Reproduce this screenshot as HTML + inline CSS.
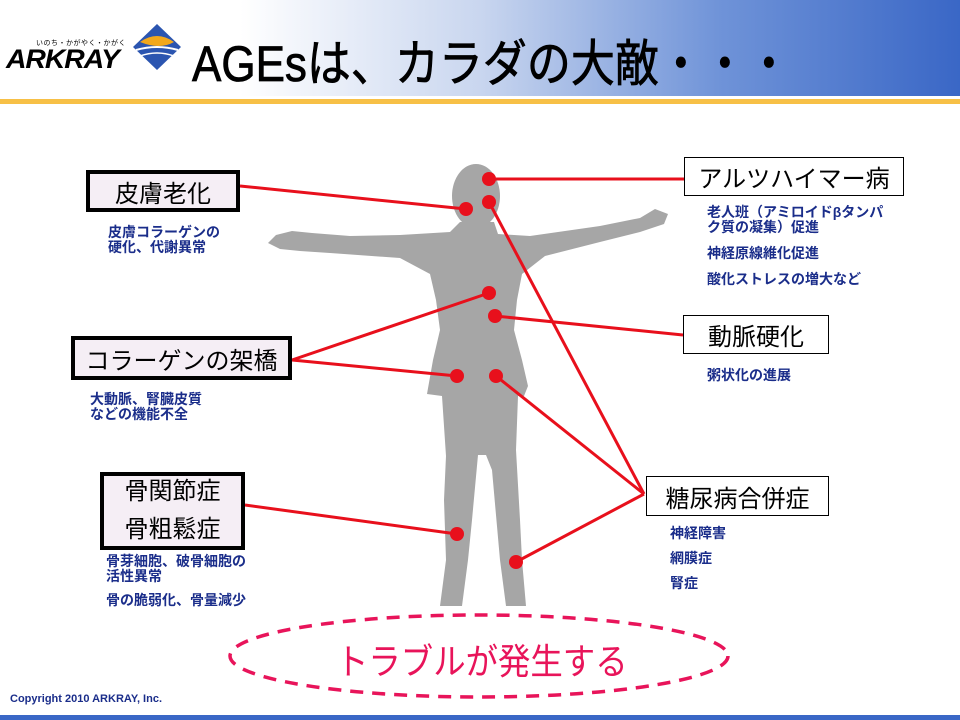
<!DOCTYPE html>
<html><head><meta charset="utf-8"><style>
body{margin:0;width:960px;height:720px;overflow:hidden;background:#fff;position:relative;font-family:"Liberation Sans","Noto Sans CJK JP",sans-serif}
.a{position:absolute}
.hdr{left:0;top:0;width:960px;height:96px;background:linear-gradient(90deg,#fff 0%,#fff 25%,#c9d6ef 50%,#6f93d8 75%,#3a67c6 100%)}
.box{position:absolute;box-sizing:border-box;display:flex;align-items:center;justify-content:center;color:#000;font-size:24px;white-space:nowrap}
.thick{border:4px solid #000;background:#f5eef5}
.thin{border:1px solid #000;background:#fff}
.d{position:absolute;color:#1a2d8a;font-weight:bold;font-size:14px;line-height:15px;white-space:nowrap}
</style></head><body>
<div class="a hdr"></div>
<div class="a" style="left:0;top:99px;width:960px;height:5px;background:#f7c046"></div>
<div class="a" style="left:0;top:715px;width:960px;height:5px;background:#3a67c6"></div>
<div class="a" style="left:36px;top:38px;font-size:7px;letter-spacing:0.5px">いのち・かがやく・かがく</div>
<div class="a" style="left:6px;top:44px;font-size:27px;font-weight:bold;font-style:italic;letter-spacing:-1px;transform:scaleX(1.05);transform-origin:left">ARKRAY</div>
<svg class="a" style="left:0;top:0" width="960" height="720">
<polygon points="157,24 181,47 157,70 133,47" fill="#2b55b0"/>
<path d="M140,42 Q157,30 174,42 Q160,50 140,42Z" fill="#f2a81c"/>
<path d="M136,50 Q157,44 178,50" stroke="#fff" stroke-width="2" fill="none"/>
<path d="M140,56 Q157,50 174,56" stroke="#fff" stroke-width="1.5" fill="none"/>
</svg>
<div class="a" style="left:192px;top:24px;font-size:50px;transform:scaleX(0.88);transform-origin:left;white-space:nowrap;-webkit-text-stroke:0.8px #000">AGEsは、カラダの大敵・・・</div>

<svg class="a" style="left:0;top:0" width="960" height="720">
<g fill="#a6a6a6">
<ellipse cx="476" cy="196" rx="24" ry="32"/>
<polygon points="460,222 494,222 498,234 530,236 600,226 640,218 655,209 668,214 664,224 640,232 600,242 545,256 522,274 517,300 514,330 522,360 528,386 524,396 518,396 516,450 520,520 522,560 526,606 506,606 500,560 492,470 486,455 478,455 472,520 468,560 462,606 440,606 446,560 444,500 446,456 442,396 427,394 433,360 440,330 436,300 430,274 400,258 330,253 300,251 280,249 268,243 276,235 292,231 312,233 350,236 400,235 450,232"/>
</g>
<g stroke="#e8101c" stroke-width="3" fill="none">
<line x1="240" y1="186" x2="466" y2="209"/>
<line x1="489" y1="179" x2="684" y2="179"/>
<line x1="489" y1="202" x2="644" y2="494"/>
<line x1="495" y1="316" x2="683" y2="335"/>
<line x1="292" y1="360" x2="489" y2="293"/>
<line x1="292" y1="360" x2="457" y2="376"/>
<line x1="496" y1="376" x2="644" y2="494"/>
<line x1="245" y1="505" x2="457" y2="534"/>
<line x1="516" y1="562" x2="644" y2="494"/>
</g>
<g fill="#e8101c">
<circle cx="489" cy="179" r="7"/><circle cx="466" cy="209" r="7"/><circle cx="489" cy="202" r="7"/>
<circle cx="489" cy="293" r="7"/><circle cx="495" cy="316" r="7"/><circle cx="457" cy="376" r="7"/>
<circle cx="496" cy="376" r="7"/><circle cx="457" cy="534" r="7"/><circle cx="516" cy="562" r="7"/>
</g>
<ellipse cx="479" cy="656" rx="249" ry="41" fill="none" stroke="#e8145a" stroke-width="3.5" stroke-dasharray="13,9"/>
</svg>

<div class="box thick" style="left:86px;top:170px;width:154px;height:42px">皮膚老化</div>
<div class="d" style="left:108px;top:225px">皮膚コラーゲンの<br>硬化、代謝異常</div>
<div class="box thick" style="left:71px;top:336px;width:221px;height:44px">コラーゲンの架橋</div>
<div class="d" style="left:90px;top:392px">大動脈、腎臓皮質<br>などの機能不全</div>
<div class="box thick" style="left:100px;top:472px;width:145px;height:78px;flex-direction:column;line-height:38px">骨関節症<br>骨粗鬆症</div>
<div class="d" style="left:106px;top:554px">骨芽細胞、破骨細胞の<br>活性異常</div>
<div class="d" style="left:106px;top:593px">骨の脆弱化、骨量減少</div>

<div class="box thin" style="left:684px;top:157px;width:220px;height:39px">アルツハイマー病</div>
<div class="d" style="left:707px;top:205px">老人班（アミロイドβタンパ<br>ク質の凝集）促進</div>
<div class="d" style="left:707px;top:246px">神経原線維化促進</div>
<div class="d" style="left:707px;top:272px">酸化ストレスの増大など</div>
<div class="box thin" style="left:683px;top:315px;width:146px;height:39px">動脈硬化</div>
<div class="d" style="left:707px;top:368px">粥状化の進展</div>
<div class="box thin" style="left:646px;top:476px;width:183px;height:40px">糖尿病合併症</div>
<div class="d" style="left:670px;top:526px">神経障害</div>
<div class="d" style="left:670px;top:551px">網膜症</div>
<div class="d" style="left:670px;top:576px">腎症</div>

<div class="a" style="left:336px;top:633px;font-size:36px;color:#e8145a;transform:scaleX(0.9);transform-origin:left;white-space:nowrap">トラブルが発生する</div>
<div class="a" style="left:10px;top:693px;font-size:11px;font-weight:bold;color:#1a2d8a">Copyright 2010 ARKRAY, Inc.</div>
</body></html>
